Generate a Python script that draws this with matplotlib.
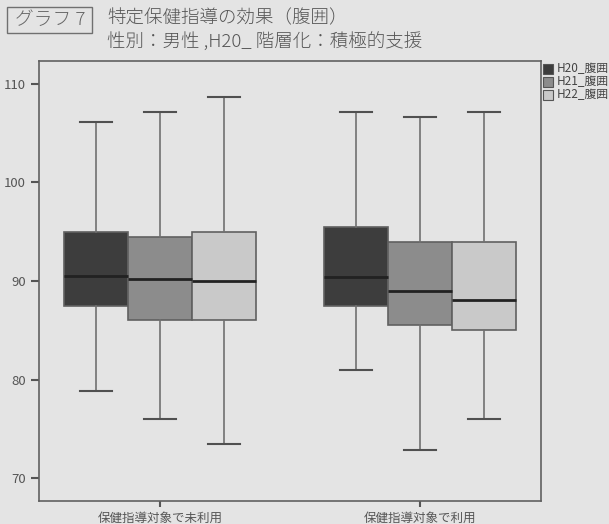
import matplotlib
matplotlib.use("Agg")
from matplotlib import pyplot
from matplotlib.patches import Rectangle

pyplot.rcParams['font.family'] = ['Noto Sans CJK JP', 'DejaVu Sans']

groups = ["保健指導対象で未利用", "保健指導対象で利用"]
series = ["H20_腹囲", "H21_腹囲", "H22_腹囲"]
colors = ["#3d3d3d", "#8c8c8c", "#c9c9c9"]

# per series: one value per group
whislo = [[78.9, 81.0], [76.0, 72.9], [73.5, 76.0]]
q1 = [[87.5, 87.5], [86.0, 85.5], [86.0, 85.0]]
med = [[90.5, 90.4], [90.2, 89.0], [90.0, 88.1]]
q3 = [[95.0, 95.5], [94.5, 94.0], [95.0, 94.0]]
whishi = [[106.1, 107.1], [107.1, 106.6], [108.7, 107.1]]

bg = "#e4e4e4"
W, H = 609, 524
fig = pyplot.figure(figsize=(W/100, H/100), dpi=100, facecolor=bg)
ax = fig.add_axes([39/W, 1 - 501/H, (541-39)/W, (501-61)/H], facecolor=bg)

width = 0.247
for k in range(len(series)):
    stats = []
    for g in range(len(groups)):
        stats.append(dict(whislo=whislo[k][g], q1=q1[k][g], med=med[k][g],
                          q3=q3[k][g], whishi=whishi[k][g], fliers=[]))
    pos = [g + (k - 1)*width for g in range(len(groups))]
    ax.bxp(stats, positions=pos, widths=width, patch_artist=True,
           manage_ticks=False,
           boxprops=dict(facecolor=colors[k], edgecolor="#606060", linewidth=1.2),
           medianprops=dict(color="#222222", linewidth=2),
           whiskerprops=dict(color="#707070", linewidth=1.2),
           capprops=dict(color="#505050", linewidth=1.5),
           capwidths=width/2)

ax.set_xlim(-0.465, 1.465)
ax.set_ylim(67.7, 112.3)
ax.set_yticks([70, 80, 90, 100, 110])
ax.set_xticks(range(len(groups)))
ax.set_xticklabels(groups, fontsize=9, color="#444444")
ax.tick_params(axis="y", labelsize=9.5, length=6, width=1.5, colors="#555555")
ax.tick_params(axis="x", length=4, width=1.5, colors="#555555")
for s in ax.spines.values():
    s.set_color("#606060")
    s.set_linewidth(1.2)

# title block
fig.patches.append(Rectangle((7/W, 1 - 33/H), 85/W, 26/H, transform=fig.transFigure,
                             fill=False, edgecolor="#707070", linewidth=1))
fig.text(50/W, 1 - 20/H, "グラフ 7", fontsize=13.5, color="#666666",
         ha="center", va="center", fontweight="light")
fig.text(107/W, 1 - 18/H, "特定保健指導の効果（腹囲）", fontsize=13.3,
         color="#555555", va="center", fontweight="light")
fig.text(107/W, 1 - 42/H, "性別：男性 ,H20_ 階層化：積極的支援", fontsize=13.3,
         color="#555555", va="center", fontweight="light")

# legend
for k, name in enumerate(series):
    y = 64 + k*13
    fig.patches.append(Rectangle((543/W, 1 - (y+10)/H), 10/W, 10/H,
                                 transform=fig.transFigure, facecolor=colors[k],
                                 edgecolor="#555555", linewidth=0.8))
    fig.text(557/W, 1 - (y+5)/H, name, fontsize=8.5, color="#444444", va="center")

fig.savefig("out.png", dpi=100, facecolor=bg)
